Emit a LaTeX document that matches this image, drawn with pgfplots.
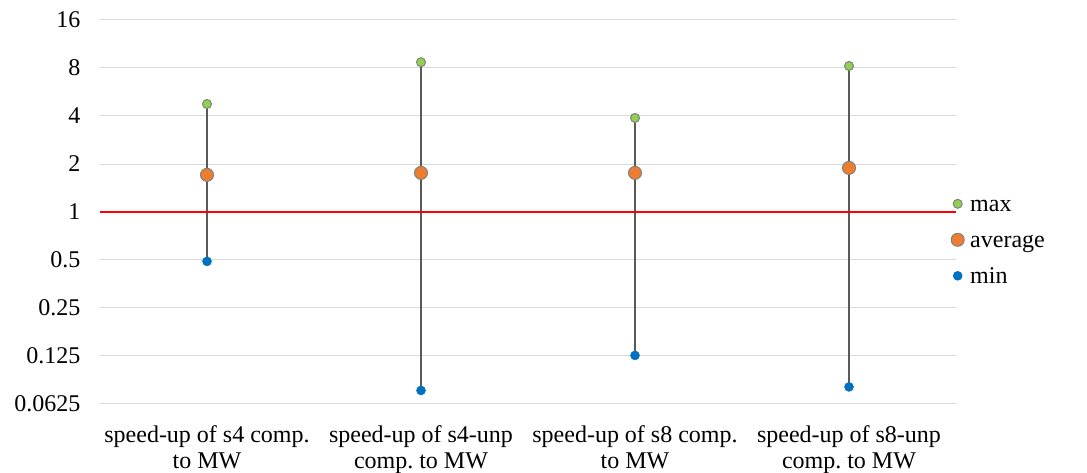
\documentclass[border=0pt]{standalone}
\usepackage{fontspec}
\setmainfont{Liberation Serif}
\usepackage{pgfplots}
\pgfplotsset{compat=1.18}
\definecolor{cmax}{HTML}{92D050}
\definecolor{cavg}{HTML}{ED7D31}
\definecolor{cmin}{HTML}{0070C0}
\definecolor{cbord}{HTML}{808080}
\definecolor{cgrid}{HTML}{D9D9D9}
\definecolor{cline}{HTML}{595959}
\begin{document}
\frenchspacing
\begin{tikzpicture}[x=1pt,y=1pt]
\path[use as bounding box] (0,0) rectangle (1087,473);
\begin{axis}[
  at={(100pt,69pt)}, anchor=south west,
  scale only axis, width=856pt, height=384pt,
  xmin=-0.5, xmax=3.5,
  ymode=log, log basis y=2,
  ymin=0.0625, ymax=16,
  ytick={0.0625,0.125,0.25,0.5,1,2,4,8,16},
  yticklabels={0.0625,0.125,0.25,0.5,1,2,4,8,16},
  xtick={0,1,2,3},
  xticklabels={speed-up of s4 comp.\\to MW, speed-up of s4-unp\\comp. to MW, speed-up of s8 comp.\\to MW, speed-up of s8-unp\\comp. to MW},
  ymajorgrids, major grid style={cgrid, line width=1pt},
  axis line style={draw=none},
  tick style={draw=none},
  /pgf/number format/assume math mode=true,
  tick label style={font=\fontsize{24}{26}\selectfont},
  yticklabel style={xshift=-16pt},
  xticklabel style={align=center, yshift=-18pt},
  legend style={at={(1,0.425)}, anchor=west, xshift=-8pt, yshift=-2pt, draw=none, fill=none,
    font=\fontsize{24}{26}\selectfont, row sep=12pt,
    nodes={inner sep=0pt, text height=17pt, text depth=7pt},
    /tikz/every odd column/.append style={column sep=6pt}},
  legend cell align=left,
  legend image code/.code={\draw[#1] plot coordinates {(0pt,3pt)};},
]
% vertical range lines
\addplot[cline, line width=1.5pt, forget plot] coordinates {(0,0.49) (0,4.76)};
\addplot[cline, line width=1.5pt, forget plot] coordinates {(1,0.076) (1,8.7)};
\addplot[cline, line width=1.5pt, forget plot] coordinates {(2,0.126) (2,3.89)};
\addplot[cline, line width=1.5pt, forget plot] coordinates {(3,0.080) (3,8.24)};
% reference line at 1
\addplot[red, line width=1.5pt, forget plot] coordinates {(-0.5,1) (3.5,1)};
% series
\addplot[only marks, mark=*, mark size=4.5pt, mark options={fill=cmax, draw=cbord, line width=1pt}]
  coordinates {(0,4.76) (1,8.7) (2,3.89) (3,8.24)};
\addlegendentry{max}
\addplot[only marks, mark=*, mark size=6.5pt, mark options={fill=cavg, draw=cbord, line width=1pt}]
  coordinates {(0,1.71) (1,1.76) (2,1.76) (3,1.89)};
\addlegendentry{average}
\addplot[only marks, mark=*, mark size=4.5pt, mark options={fill=cmin, draw=cmin, line width=0.5pt}]
  coordinates {(0,0.49) (1,0.076) (2,0.126) (3,0.080)};
\addlegendentry{min}
\end{axis}
\end{tikzpicture}
\end{document}
